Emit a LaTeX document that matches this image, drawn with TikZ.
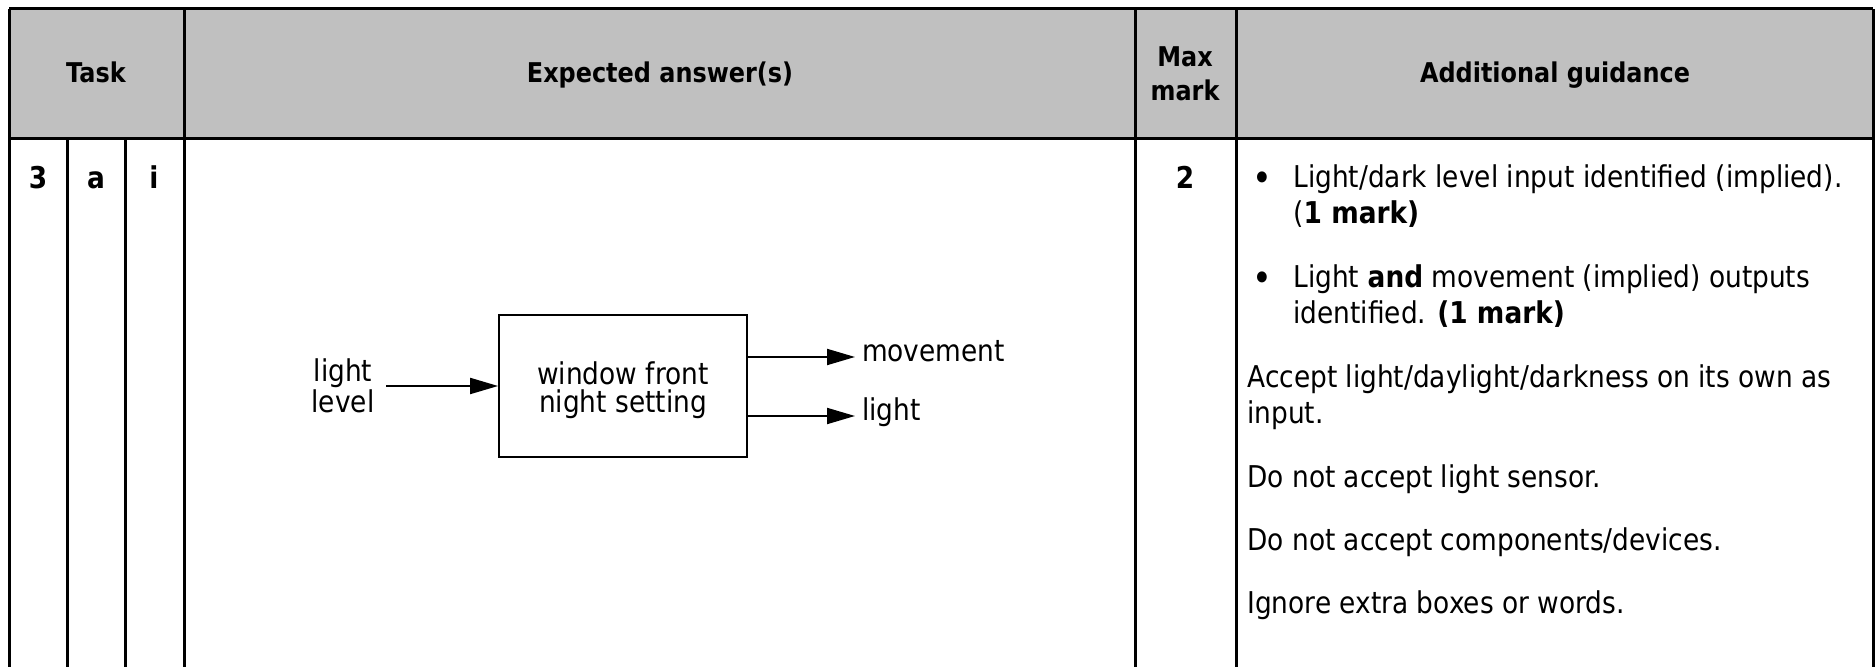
\documentclass[tikz,border=0pt]{standalone}
\usepackage{fontspec}
\setmainfont{DejaVu Sans}[FakeStretch=0.88]
\usepackage{tikz}
\usetikzlibrary{arrows.meta,positioning}

\definecolor{headgrey}{RGB}{192,192,192}

\begin{document}
\begin{tikzpicture}[x=0.5pt, y=-0.5pt,
        rule/.style={line width=1.5pt},
        headtext/.style={font=\fontsize{13.6}{17}\selectfont\bfseries, align=center},
        numtext/.style={font=\fontsize{15}{18}\selectfont\bfseries, inner sep=0pt, anchor=base},
        bulletmark/.style={font=\fontsize{19}{18}\selectfont, inner sep=0pt, anchor=base},
        celltext/.style={font=\fontsize{15}{18}\selectfont, align=left, inner sep=0pt, anchor=base west},
        blockbox/.style={draw, line width=0.9pt, minimum width=124pt, minimum height=71pt,
            font=\fontsize{15}{14}\selectfont, align=center},
        sigtext/.style={font=\fontsize{15}{14}\selectfont, align=center},
        outtext/.style={font=\fontsize{15}{14}\selectfont, anchor=west, text height=0.75em, text depth=0.25em},
        flow/.style={line width=1pt, -{Triangle[length=14pt, width=8pt]}}]

                \useasboundingbox (0,0) rectangle (1876,667);

                % Table grid
                \fill[headgrey] (9,9) rectangle (1873,139);
                \draw[rule] (9,9) -- (1873,9);
                \draw[rule] (9,139) -- (1873,139);
                \foreach \x in {9,184,1135,1236,1873}
                    \draw[rule] (\x,9) -- (\x,667);
                \foreach \x in {67,125}
                    \draw[rule] (\x,139) -- (\x,667);

                % Header row
                \node[headtext, anchor=base] (task) at (96,83) {Task};
                \node[headtext, anchor=base] (expect) at (660,83) {Expected answer(s)};
                \node[headtext] (maxmark) at (1185,74) {Max\\mark};
                \node[headtext, anchor=base] (guide) at (1555,83) {Additional guidance};

                % Question number and mark
                \node[numtext] (qnum) at (38,189) {3};
                \node[numtext] (qpart) at (96,189) {a};
                \node[numtext] (qsub) at (154,189) {i};
                \node[numtext] (mark) at (1185,189) {2};

                % Block diagram
                \node[blockbox] (blk) at (623,386) {\rule{0pt}{16pt}window front\\night setting};
                \node[sigtext] (lvl) at (343,386) {light\\level};
                \node[outtext] (mv) at (855,357) {movement};
                \node[outtext] (lt) at (855,416) {light};
                \draw[flow] ([xshift=2.5pt]lvl.east |- blk.west) -- (blk.west);
                \draw[flow] (blk.east |- mv.west) -- (mv.west);
                \draw[flow] (blk.east |- lt.west) -- (lt.west);

                % Guidance (base of a two-line node is its last line)
                \node[bulletmark] (dot1) at (1262,192) {•};
                \node[celltext] (g1) at (1293,224) {Light/dark level input identified (implied).\\(\textbf{1 mark)}};
                \node[bulletmark] (dot2) at (1262,292) {•};
                \node[celltext] (g2) at (1293,324) {Light \textbf{and} movement (implied) outputs\\identified. \textbf{(1 mark)}};
                \node[celltext] (g3) at (1247,424) {Accept light/daylight/darkness on its own as\\input.};
                \node[celltext] (g4) at (1247,488) {Do not accept light sensor.};
                \node[celltext] (g5) at (1247,551) {Do not accept components/devices.};
                \node[celltext] (g6) at (1247,614) {Ignore extra boxes or words.};

\end{tikzpicture}
\end{document}
